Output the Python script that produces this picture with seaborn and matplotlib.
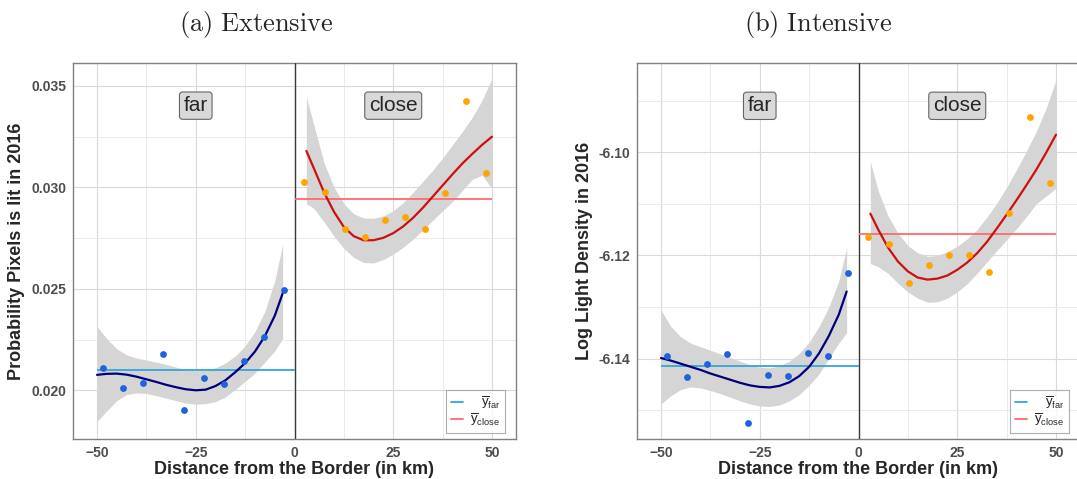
import numpy as np
import pandas as pd
import seaborn as sns
import matplotlib
matplotlib.use("Agg")
import matplotlib.pyplot as plt
from matplotlib.lines import Line2D
from matplotlib.ticker import FormatStrFormatter

# ---------------- data ----------------
bin_far_x = [-48.6, -43.4, -38.3, -33.2, -28.1, -22.9, -17.9, -12.8, -7.7, -2.6]
bin_close_x = [2.5, 7.6, 12.7, 17.8, 22.9, 28.0, 33.1, 38.2, 43.3, 48.4]

fit_far_x = [-50, -47.5, -45, -42.5, -40, -37.5, -35, -32.5, -30, -27.5,
             -25, -22.5, -20, -17.5, -15, -12.5, -10, -7.5, -5, -3]
fit_close_x = [3, 5, 7.5, 10, 12.5, 15, 17.5, 20, 22.5, 25,
               27.5, 30, 32.5, 35, 37.5, 40, 42.5, 45, 47.5, 50]

# (a) Extensive
ext_far_y = [0.02113, 0.02010, 0.02036, 0.02179, 0.01905, 0.02061, 0.02034, 0.02144, 0.02262, 0.02495]
ext_close_y = [0.03028, 0.02980, 0.02795, 0.02756, 0.02839, 0.02856, 0.02795, 0.02974, 0.03426, 0.03069]
ext_far_mean = 0.02102
ext_close_mean = 0.02941
ext_far_fit = [0.02077, 0.02082, 0.02083, 0.02078, 0.02068, 0.02055, 0.02042, 0.02028, 0.02016, 0.02006,
               0.02001, 0.02004, 0.02022, 0.02050, 0.02090, 0.02135, 0.02192, 0.02268, 0.02368, 0.02478]
ext_far_hi = [0.02315, 0.02255, 0.02205, 0.02175, 0.02160, 0.02150, 0.02140, 0.02128, 0.02115, 0.02103,
              0.02097, 0.02100, 0.02112, 0.02135, 0.02170, 0.02220, 0.02290, 0.02390, 0.02540, 0.02720]
ext_far_lo = [0.01848, 0.01900, 0.01950, 0.01980, 0.01988, 0.01985, 0.01975, 0.01962, 0.01950, 0.01938,
              0.01932, 0.01935, 0.01945, 0.01968, 0.02005, 0.02045, 0.02085, 0.02140, 0.02195, 0.02255]
ext_close_fit = [0.03180, 0.03090, 0.02975, 0.02880, 0.02805, 0.02760, 0.02740, 0.02740, 0.02752, 0.02775,
                 0.02808, 0.02850, 0.02900, 0.02955, 0.03010, 0.03065, 0.03118, 0.03165, 0.03210, 0.03250]
ext_close_hi = [0.03446, 0.03300, 0.03120, 0.03000, 0.02920, 0.02870, 0.02850, 0.02848, 0.02860, 0.02885,
                0.02925, 0.02975, 0.03030, 0.03085, 0.03145, 0.03210, 0.03275, 0.03345, 0.03430, 0.03536]
ext_close_lo = [0.02921, 0.02895, 0.02830, 0.02760, 0.02700, 0.02655, 0.02630, 0.02628, 0.02645, 0.02672,
                0.02705, 0.02745, 0.02790, 0.02838, 0.02885, 0.02930, 0.02985, 0.03040, 0.03060, 0.02995]

# (b) Intensive
int_far_y = [-6.13946, -6.14359, -6.14114, -6.13907, -6.15245, -6.14321, -6.14334, -6.13894, -6.13952, -6.12343]
int_close_y = [-6.11638, -6.11774, -6.12543, -6.12187, -6.12000, -6.12000, -6.12317, -6.11173, -6.09311, -6.10597]
int_far_mean = -6.1414
int_close_mean = -6.11586
int_far_fit = [-6.1399, -6.1404, -6.1410, -6.1416, -6.1422, -6.1429, -6.1435, -6.1441, -6.1447, -6.1452,
               -6.1455, -6.1456, -6.1453, -6.1446, -6.1434, -6.1416, -6.1390, -6.1356, -6.1315, -6.1270]
int_far_hi = [-6.1306, -6.1338, -6.1358, -6.1370, -6.1377, -6.1384, -6.1391, -6.1398, -6.1405, -6.1412,
              -6.1417, -6.1418, -6.1414, -6.1405, -6.1390, -6.1368, -6.1338, -6.1300, -6.1250, -6.1185]
int_far_lo = [-6.1488, -6.1472, -6.1460, -6.1455, -6.1457, -6.1462, -6.1468, -6.1475, -6.1482, -6.1488,
              -6.1492, -6.1493, -6.1490, -6.1482, -6.1470, -6.1452, -6.1430, -6.1400, -6.1370, -6.1350]
int_close_fit = [-6.1119, -6.1150, -6.1185, -6.1212, -6.1231, -6.1243, -6.1247, -6.1245, -6.1239, -6.1228,
                 -6.1214, -6.1196, -6.1174, -6.1148, -6.1121, -6.1093, -6.1064, -6.1034, -6.1001, -6.0966]
int_close_hi = [-6.1018, -6.1075, -6.1124, -6.1157, -6.1181, -6.1195, -6.1202, -6.1200, -6.1193, -6.1182,
                -6.1168, -6.1150, -6.1126, -6.1099, -6.1068, -6.1034, -6.0998, -6.0960, -6.0915, -6.0860]
int_close_lo = [-6.1216, -6.1222, -6.1235, -6.1254, -6.1271, -6.1283, -6.1291, -6.1290, -6.1283, -6.1271,
                -6.1255, -6.1235, -6.1213, -6.1191, -6.1170, -6.1148, -6.1125, -6.1100, -6.1085, -6.1070]

x_ticks = [-50, -25, 0, 25, 50]
ext_yticks = [0.020, 0.025, 0.030, 0.035]
int_yticks = [-6.14, -6.12, -6.10]

# ---------------- style ----------------
sns.set_style("white")
plt.rcParams['font.family'] = ['Liberation Sans', 'DejaVu Sans']
plt.rcParams['mathtext.fontset'] = 'custom'
plt.rcParams['mathtext.rm'] = 'Liberation Sans'
plt.rcParams['mathtext.it'] = 'Liberation Sans:italic'
plt.rcParams['mathtext.bf'] = 'Liberation Sans:bold'

C_BLUE_PT = "#1F63DC"
C_ORANGE_PT = "#FFA500"
C_NAVY = "#00007F"
C_RED = "#CC1010"
C_FAR_MEAN = "#2FA6DD"
C_CLOSE_MEAN = "#FF6B6B"
C_BAND = "#D5D5D5"
C_FRAME = "#808080"
C_TICKLBL = "#4D4D4D"

W, H = 1077, 479
fig = plt.figure(figsize=(W / 100, H / 100), dpi=100)
ax1 = fig.add_axes([73 / W, 1 - 439 / H, 443 / W, 376 / H])
ax2 = fig.add_axes([637 / W, 1 - 439 / H, 443 / W, 376 / H])


def draw_panel(ax, far_y, close_y, far_mean, close_mean,
               far_fit, far_lo, far_hi, close_fit, close_lo, close_hi,
               ylim, yticks, yminor, fmt, ylabel, label_y):
    ax.set_xlim(-56.08, 56.08)
    ax.set_ylim(*ylim)
    ax.set_xticks(x_ticks)
    ax.set_xticks([-37.5, -12.5, 12.5, 37.5], minor=True)
    ax.set_yticks(yticks)
    ax.set_yticks(yminor, minor=True)
    ax.yaxis.set_major_formatter(FormatStrFormatter(fmt))
    ax.grid(True, which='major', color="#DADADA", lw=0.8, zorder=0)
    ax.grid(True, which='minor', color="#EBEBEB", lw=0.7, zorder=0)
    ax.set_axisbelow(True)

    # confidence bands
    ax.fill_between(fit_far_x, far_lo, far_hi, color=C_BAND, lw=0, zorder=2)
    ax.fill_between(fit_close_x, close_lo, close_hi, color=C_BAND, lw=0, zorder=2)

    # border at zero
    ax.axvline(0, color="#3A3A3A", lw=1.0, zorder=3)

    # means
    ax.hlines(far_mean, -50, 0, color=C_FAR_MEAN, lw=1.3, zorder=3)
    ax.hlines(close_mean, 0, 50, color=C_CLOSE_MEAN, lw=1.3, zorder=3)

    # fitted curves
    sns.lineplot(x=fit_far_x, y=far_fit, ax=ax, color=C_NAVY, lw=1.6, zorder=4, legend=False)
    sns.lineplot(x=fit_close_x, y=close_fit, ax=ax, color=C_RED, lw=1.6, zorder=4, legend=False)

    # binned means
    sns.scatterplot(x=bin_far_x, y=far_y, ax=ax, color=C_BLUE_PT, s=24, linewidth=0, zorder=5, legend=False)
    sns.scatterplot(x=bin_close_x, y=close_y, ax=ax, color=C_ORANGE_PT, s=24, linewidth=0, zorder=5, legend=False)

    # panel labels
    box = dict(boxstyle="round,pad=0.2,rounding_size=0.15", fc="#D9D9D9", ec="#666666", lw=0.8)
    ax.text(-25, label_y, "far", fontsize=15, ha='center', va='center', bbox=box, zorder=6)
    ax.text(25, label_y, "close", fontsize=15, ha='center', va='center', bbox=box, zorder=6)

    for sp in ax.spines.values():
        sp.set_color(C_FRAME)
        sp.set_linewidth(1.0)
        sp.set_visible(True)
    ax.tick_params(axis='both', which='major', length=3, width=0.8, color=C_FRAME,
                   labelsize=10, labelcolor=C_TICKLBL, pad=2)
    ax.tick_params(axis='both', which='minor', length=0)
    for t in ax.get_xticklabels() + ax.get_yticklabels():
        t.set_fontweight('bold')
    ax.set_xlabel("Distance from the Border (in km)", fontsize=13, fontweight='bold', labelpad=1)
    ax.set_ylabel(ylabel, fontsize=13, fontweight='bold', labelpad=4)

    handles = [Line2D([0], [0], color=C_FAR_MEAN, lw=1.3),
               Line2D([0], [0], color=C_CLOSE_MEAN, lw=1.3)]
    labels = [r'$\overline{\mathrm{y}}_{\mathrm{far}}$', r'$\overline{\mathrm{y}}_{\mathrm{close}}$']
    leg = ax.legend(handles, labels, loc='lower right',
                    bbox_to_anchor=(1 - 11 / 443, 6 / 376), borderaxespad=0,
                    fontsize=9.5, frameon=True, fancybox=False, handlelength=0.9,
                    handletextpad=0.6, borderpad=0.35, labelspacing=0.1)
    leg.get_frame().set_edgecolor("#9A9A9A")
    leg.get_frame().set_linewidth(0.8)
    leg.set_zorder(7)
    return leg


leg1 = draw_panel(ax1, ext_far_y, ext_close_y, ext_far_mean, ext_close_mean,
                  ext_far_fit, ext_far_lo, ext_far_hi, ext_close_fit, ext_close_lo, ext_close_hi,
                  (0.01761, 0.03613), ext_yticks, [0.0225, 0.0275, 0.0325], '%.3f',
                  "Probability Pixels is lit in 2016", 0.03403)
leg2 = draw_panel(ax2, int_far_y, int_close_y, int_far_mean, int_close_mean,
                  int_far_fit, int_far_lo, int_far_hi, int_close_fit, int_close_lo, int_close_hi,
                  (-6.1556, -6.0827), int_yticks, [-6.15, -6.13, -6.11, -6.09], '%.2f',
                  "Log Light Density in 2016", -6.0910)

fig.text(256 / W, 1 - 25 / H, r'$\mathrm{(a)\ Extensive}$', math_fontfamily='cm',
         fontsize=19, ha='center', va='center')
fig.text(818 / W, 1 - 25 / H, r'$\mathrm{(b)\ Intensive}$', math_fontfamily='cm',
         fontsize=19, ha='center', va='center')

# right-align legend labels within the legend column
fig.canvas.draw()
for leg in (leg1, leg2):
    texts = leg.get_texts()
    widths = [t.get_window_extent().width for t in texts]
    wmax = max(widths)
    for t, w in zip(texts, widths):
        t.set_position((wmax - w, 0))

fig.savefig("out.png", dpi=100)
